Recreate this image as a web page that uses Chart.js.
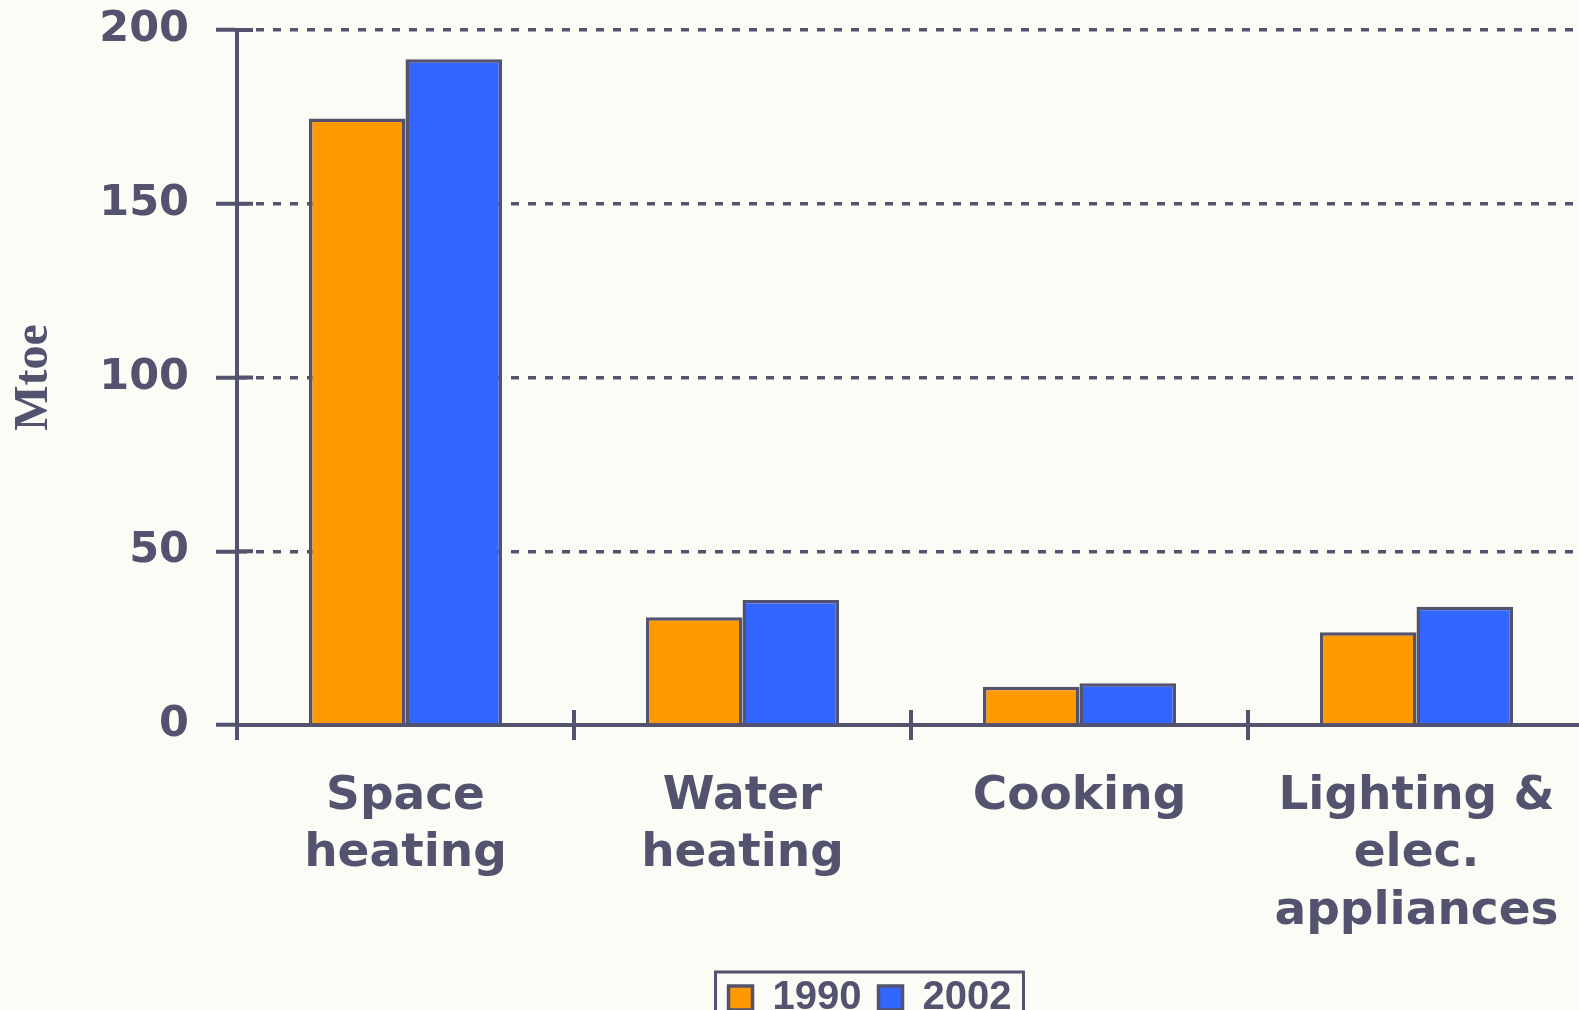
<!DOCTYPE html>
<html>
<head>
<meta charset="utf-8">
<script src="https://cdn.jsdelivr.net/npm/chart.js@4/dist/chart.umd.min.js"></script>
<style>
  html, body { margin: 0; padding: 0; background: #fcfcf6; overflow: hidden; }
  #wrap { width: 1600px; height: 1028px; }
</style>
</head>
<body>
<div id="wrap"><canvas id="energyChart" width="1600" height="1028"></canvas></div>
<script>
/* DATA */
const categories = [["Space", "heating"], ["Water", "heating"], "Cooking", ["Lighting &", "elec.", "appliances"]];
const seriesLabels = ["1990", "2002"];
const values1990 = [174.5, 31, 11, 26.7];
const values2002 = [191.6, 36, 12, 34];
const yTicks = [0, 50, 100, 150, 200];

/* STYLE */
const INK = "#53536f";
const WIDE = "'DejaVu Sans', Verdana, sans-serif";
const SANS = "'Liberation Sans', Arial, sans-serif";
const SERIF = "'Liberation Serif', 'Times New Roman', serif";

/* short solid marks: y ticks poke into the plot, x separators poke above the axis */
const axisMarks = {
    id: "axisMarks",
    beforeDatasetsDraw(chart) {
        const { ctx, chartArea, scales } = chart;
        ctx.save();
        ctx.strokeStyle = INK;
        ctx.lineWidth = 4;
        ctx.beginPath();
        yTicks.forEach(v => {
            const y = scales.y.getPixelForValue(v);
            ctx.moveTo(chartArea.left, y);
            ctx.lineTo(chartArea.left + 16, y);
        });
        for (let i = 1; i < categories.length; i++) {
            const x = (scales.x.getPixelForValue(i - 1) + scales.x.getPixelForValue(i)) / 2;
            ctx.moveTo(x, chartArea.bottom);
            ctx.lineTo(x, chartArea.bottom - 15);
        }
        ctx.stroke();
        ctx.restore();
    }
};

/* move the legend to where the original sits and frame it */
const legendFrame = {
    id: "legendFrame",
    afterUpdate(chart) {
        const lg = chart.legend;
        const boxes = lg.legendHitBoxes;
        const first = boxes[0], last = boxes[boxes.length - 1];
        const mid = (first.left + last.left + last.width) / 2;
        const dx = 870 - mid;
        lg.left += dx;
        lg.right += dx;
        boxes.forEach(b => { b.left += dx; });
    },
    afterDraw(chart) {
        const boxes = chart.legend.legendHitBoxes;
        const first = boxes[0], last = boxes[boxes.length - 1];
        const ctx = chart.ctx;
        ctx.save();
        ctx.strokeStyle = INK;
        ctx.lineWidth = 3;
        const x1 = first.left - 13;
        const x2 = last.left + last.width + 12;
        ctx.strokeRect(x1, first.top - 6, x2 - x1, 200);
        ctx.restore();
    }
};

const chart = new Chart(document.getElementById("energyChart"), {
    type: "bar",
    data: {
        labels: categories,
        datasets: [{
            label: seriesLabels[0],
            data: values1990,
            backgroundColor: "#ff9900",
            borderColor: INK,
            borderWidth: 3.5
        }, {
            label: seriesLabels[1],
            data: values2002,
            backgroundColor: "#3366ff",
            borderColor: INK,
            borderWidth: 3.5
        }]
    },
    options: {
        responsive: false,
        animation: false,
        devicePixelRatio: 1,
        categoryPercentage: 0.573,
        barPercentage: 1,
        layout: { padding: { left: 0, right: 15, top: 30, bottom: 0 } },
        plugins: {
            tooltip: { enabled: false },
            legend: {
                position: "bottom",
                labels: {
                    font: { family: SANS, size: 40, weight: "bold" },
                    color: INK,
                    boxWidth: 24,
                    boxHeight: 24,
                    padding: 17
                }
            }
        },
        scales: {
            x: {
                ticks: {
                    font: { family: WIDE, size: 47, weight: "bold", lineHeight: 1.22 },
                    color: INK,
                    padding: 28,
                    maxRotation: 0,
                    autoSkip: false
                },
                grid: { offset: true, drawOnChartArea: false, tickLength: 15, color: INK, lineWidth: 4 },
                border: { color: INK, width: 4 },
                afterFit(scale) { scale.height = 236; }
            },
            y: {
                min: 0,
                max: 200,
                afterBuildTicks(scale) { scale.ticks = yTicks.map(v => ({ value: v })); },
                ticks: {
                    font: { family: WIDE, size: 43, weight: "bold" },
                    color: INK,
                    padding: 27
                },
                grid: { color: INK, lineWidth: 3.5, tickLength: 21, tickColor: INK, tickWidth: 4 },
                border: { color: INK, width: 4, dash: [8, 9] },
                title: {
                    display: true,
                    text: "Mtoe",
                    font: { family: SERIF, size: 48, weight: "bold" },
                    color: INK,
                    padding: { top: 6, bottom: 0 }
                },
                afterFit(scale) {
                    scale.width = 237;
                    scale.paddingTop = 0;
                    scale.paddingBottom = 0;
                }
            }
        }
    },
    plugins: [axisMarks, legendFrame]
});
</script>
</body>
</html>
